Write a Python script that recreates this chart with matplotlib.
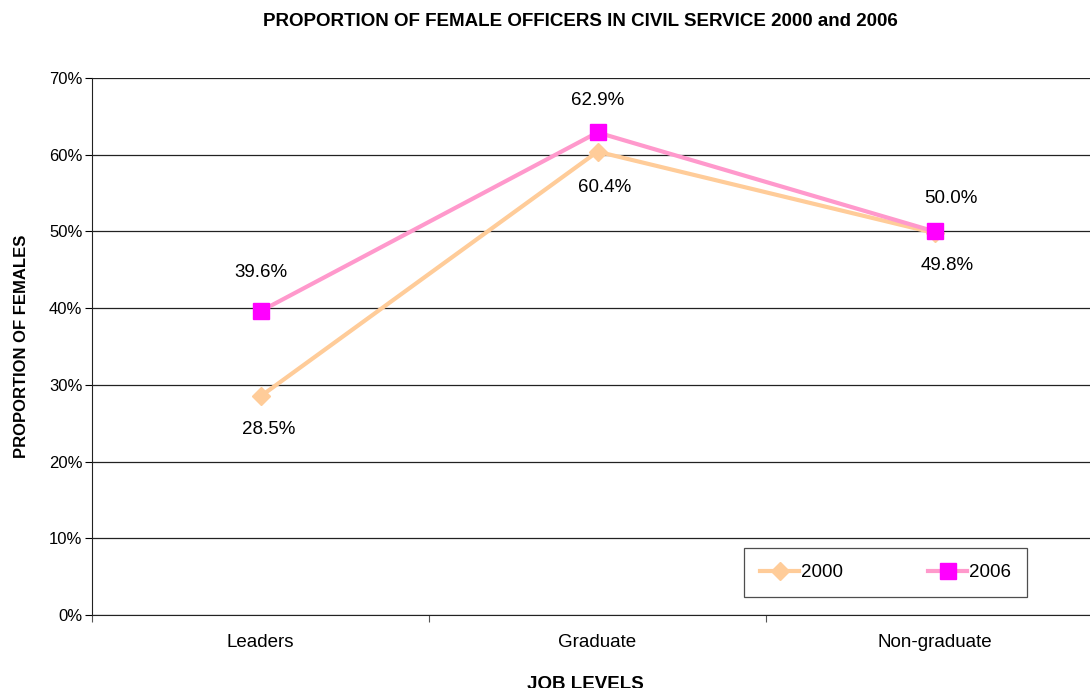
import matplotlib
matplotlib.use("Agg")
import matplotlib.pyplot as plt
from matplotlib.ticker import FixedLocator, PercentFormatter

plt.rcParams['font.family'] = ['Liberation Sans', 'DejaVu Sans']

categories = ["Leaders", "Graduate", "Non-graduate"]
values_2000 = [28.5, 60.4, 49.8]
values_2006 = [39.6, 62.9, 50.0]
yticks = [0, 10, 20, 30, 40, 50, 60, 70]

fig = plt.figure(figsize=(10.9, 6.88), dpi=100)
ax = fig.add_axes([92/1090, 73/688, 1011/1090, 537/688])

x = list(range(len(categories)))
ax.plot(x, values_2000, color='#FFCC99', lw=3, marker='D', ms=9,
        markerfacecolor='#FFCC99', markeredgecolor='#FFCC99', label='2000', zorder=3)
ax.plot(x, values_2006, color='#FF99CC', lw=3, marker='s', ms=11,
        markerfacecolor='#FF00FF', markeredgecolor='#FF00FF', label='2006', zorder=4)

off_2000 = [(8, -33), (7, -36), (13, -33)]
off_2006 = [(0, 39), (0, 32), (16, 33)]
for xi, v, o in zip(x, values_2000, off_2000):
    ax.annotate(f"{v:.1f}%", (xi, v), xytext=o, textcoords='offset pixels',
                ha='center', va='center', fontsize=13.5)
for xi, v, o in zip(x, values_2006, off_2006):
    ax.annotate(f"{v:.1f}%", (xi, v), xytext=o, textcoords='offset pixels',
                ha='center', va='center', fontsize=13.5)

ax.set_xlim(-0.5, 2.5)
ax.set_ylim(0, 70)
ax.xaxis.set_major_locator(FixedLocator([-0.5, 0.5, 1.5, 2.5]))
ax.xaxis.set_minor_locator(FixedLocator(x))
ax.set_xticklabels([])
ax.set_xticklabels(categories, minor=True)
ax.tick_params(axis='x', which='minor', length=0, labelsize=13.5, pad=14)
ax.tick_params(axis='x', which='major', length=5, direction='out', color='#555555')
ax.set_yticks(yticks)
ax.yaxis.set_major_formatter(PercentFormatter(decimals=0))
ax.tick_params(axis='y', length=5, direction='out', labelsize=12, pad=2)

ax.grid(axis='y', color='#222222', lw=0.9)
ax.set_axisbelow(True)
for s in ['top', 'right']:
    ax.spines[s].set_visible(False)
ax.spines['left'].set_color('#222222')
ax.spines['bottom'].set_color('#222222')

ax.set_xlabel("JOB LEVELS", fontsize=13.5, fontweight='bold', labelpad=18)
ax.xaxis.label.set_x((585 - 92) / 1011)
ax.set_ylabel("PROPORTION OF FEMALES", fontsize=12, fontweight='bold', labelpad=14)
fig.text(580/1090, 1 - 21/688, "PROPORTION OF FEMALE OFFICERS IN CIVIL SERVICE 2000 and 2006",
         ha='center', va='center', fontsize=13.5, fontweight='bold')

leg = ax.legend(loc='lower left', bbox_to_anchor=(744/1090, 91/688, 283/1090, 51/688),
                bbox_transform=fig.transFigure, mode='expand',
                ncol=2, frameon=True, fancybox=False, fontsize=13.5, handlelength=2.1,
                borderpad=0.85, columnspacing=3.2, handletextpad=0.1, borderaxespad=0)
leg.get_frame().set_edgecolor('#222222')
leg.get_frame().set_linewidth(0.9)

fig.savefig("out.png", dpi=100)
